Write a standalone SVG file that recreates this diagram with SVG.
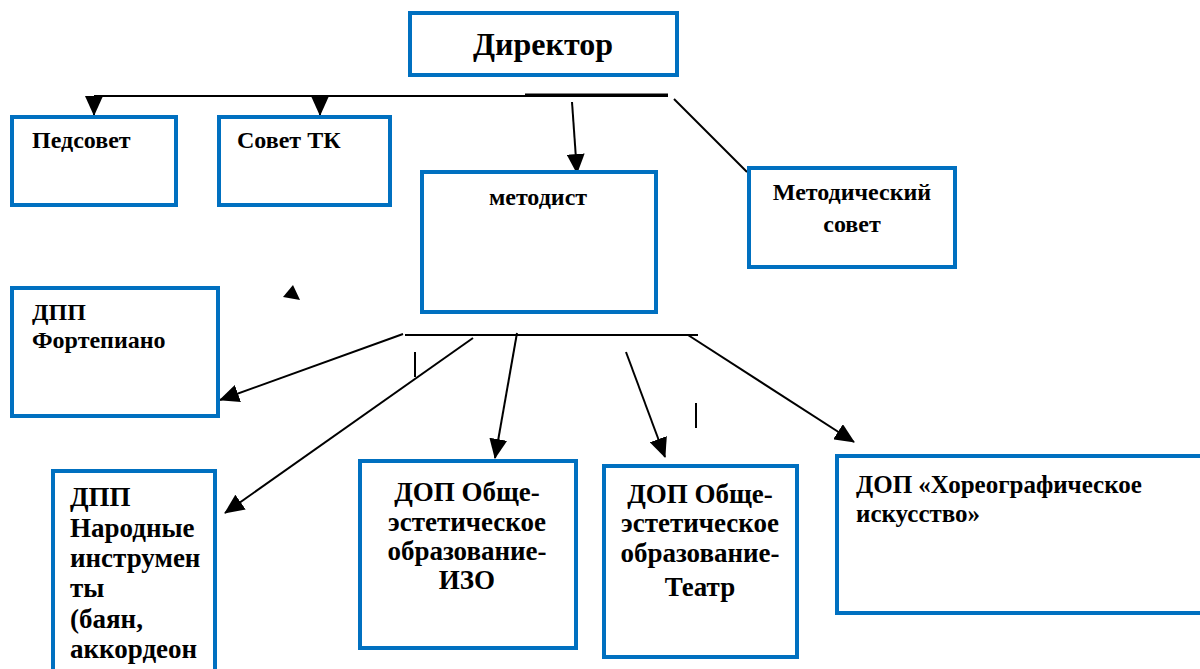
<svg xmlns="http://www.w3.org/2000/svg" width="1200" height="669" viewBox="0 0 1200 669">
<defs>
<marker id="ah" markerUnits="userSpaceOnUse" markerWidth="20" markerHeight="18" viewBox="0 0 20 18" refX="19" refY="9" orient="auto">
<path d="M0,0 L20,9 L0,18 Z" fill="#000"/>
</marker>
</defs>
<g id="connectors" stroke="#000" stroke-width="2" fill="none">
<line x1="94" y1="96" x2="668" y2="96"/>
<line x1="525" y1="94.5" x2="668" y2="94.5"/>
<line x1="94" y1="96" x2="94" y2="115" marker-end="url(#ah)"/>
<line x1="320" y1="96" x2="320" y2="115" marker-end="url(#ah)"/>
<line x1="572" y1="102" x2="577" y2="173" marker-end="url(#ah)"/>
<line x1="674" y1="99" x2="747" y2="172"/>
<polygon points="293,285 283,297 300,300" fill="#000" stroke="none"/>
<line x1="405" y1="335" x2="698" y2="335"/>
<line x1="403" y1="334" x2="220" y2="400" marker-end="url(#ah)"/>
<line x1="473" y1="338" x2="225" y2="513" marker-end="url(#ah)"/>
<line x1="415" y1="352" x2="415" y2="377"/>
<line x1="517" y1="333" x2="495" y2="458" marker-end="url(#ah)"/>
<line x1="626" y1="352" x2="665" y2="457" marker-end="url(#ah)"/>
<line x1="696" y1="403" x2="696" y2="428"/>
<line x1="688" y1="335" x2="854" y2="442" marker-end="url(#ah)"/>
</g>
<g id="director">
<rect x="410" y="13" width="267" height="62" fill="#fff" stroke="#0070C0" stroke-width="4"/>
<text x="543" y="55" font-family="Liberation Serif" font-weight="bold" font-size="32" text-anchor="middle">Директор</text>
</g>
<g id="pedsovet">
<rect x="12" y="117" width="164" height="88" fill="#fff" stroke="#0070C0" stroke-width="4"/>
<text x="32" y="148" font-family="Liberation Serif" font-weight="bold" font-size="24">Педсовет</text>
</g>
<g id="sovet-tk">
<rect x="219" y="117" width="171" height="88" fill="#fff" stroke="#0070C0" stroke-width="4"/>
<text x="237" y="148" font-family="Liberation Serif" font-weight="bold" font-size="24">Совет ТК</text>
</g>
<g id="metodist">
<rect x="422" y="172" width="234" height="140" fill="#fff" stroke="#0070C0" stroke-width="4"/>
<text x="538" y="205" font-family="Liberation Serif" font-weight="bold" font-size="24" text-anchor="middle">методист</text>
</g>
<g id="metod-sovet">
<rect x="749" y="168" width="206" height="99" fill="#fff" stroke="#0070C0" stroke-width="4"/>
<text x="852" y="200" font-family="Liberation Serif" font-weight="bold" font-size="24" text-anchor="middle">Методический</text>
<text x="852" y="232" font-family="Liberation Serif" font-weight="bold" font-size="24" text-anchor="middle">совет</text>
</g>
<g id="dpp-fortepiano">
<rect x="12" y="288" width="206" height="128" fill="#fff" stroke="#0070C0" stroke-width="4"/>
<text x="32" y="320" font-family="Liberation Serif" font-weight="bold" font-size="24">ДПП</text>
<text x="32" y="348" font-family="Liberation Serif" font-weight="bold" font-size="24">Фортепиано</text>
</g>
<g id="dpp-narodnye">
<rect x="53" y="471" width="162" height="215" fill="#fff" stroke="#0070C0" stroke-width="4"/>
<text x="70" y="506" font-family="Liberation Serif" font-weight="bold" font-size="27">ДПП</text>
<text x="70" y="537" font-family="Liberation Serif" font-weight="bold" font-size="27">Народные</text>
<text x="70" y="567" font-family="Liberation Serif" font-weight="bold" font-size="27">инструмен</text>
<text x="70" y="597" font-family="Liberation Serif" font-weight="bold" font-size="27">ты</text>
<text x="70" y="628" font-family="Liberation Serif" font-weight="bold" font-size="27">(баян,</text>
<text x="70" y="658" font-family="Liberation Serif" font-weight="bold" font-size="27">аккордеон</text>
</g>
<g id="dop-izo">
<rect x="360" y="461" width="216" height="187" fill="#fff" stroke="#0070C0" stroke-width="4"/>
<text x="467" y="501" font-family="Liberation Serif" font-weight="bold" font-size="27" text-anchor="middle">ДОП Обще-</text>
<text x="467" y="531" font-family="Liberation Serif" font-weight="bold" font-size="27" text-anchor="middle">эстетическое</text>
<text x="467" y="560" font-family="Liberation Serif" font-weight="bold" font-size="27" text-anchor="middle">образование-</text>
<text x="467" y="589" font-family="Liberation Serif" font-weight="bold" font-size="27" text-anchor="middle">ИЗО</text>
</g>
<g id="dop-teatr">
<rect x="604" y="466" width="193" height="191" fill="#fff" stroke="#0070C0" stroke-width="4"/>
<text x="700" y="503" font-family="Liberation Serif" font-weight="bold" font-size="27" text-anchor="middle">ДОП Обще-</text>
<text x="700" y="532" font-family="Liberation Serif" font-weight="bold" font-size="27" text-anchor="middle">эстетическое</text>
<text x="700" y="562" font-family="Liberation Serif" font-weight="bold" font-size="27" text-anchor="middle">образование-</text>
<text x="700" y="596" font-family="Liberation Serif" font-weight="bold" font-size="27" text-anchor="middle">Театр</text>
</g>
<g id="dop-horeo">
<rect x="837" y="456" width="370" height="157" fill="#fff" stroke="#0070C0" stroke-width="4"/>
<text x="856" y="493" font-family="Liberation Serif" font-weight="bold" font-size="25">ДОП «Хореографическое</text>
<text x="856" y="522" font-family="Liberation Serif" font-weight="bold" font-size="25">искусство»</text>
</g>
</svg>
